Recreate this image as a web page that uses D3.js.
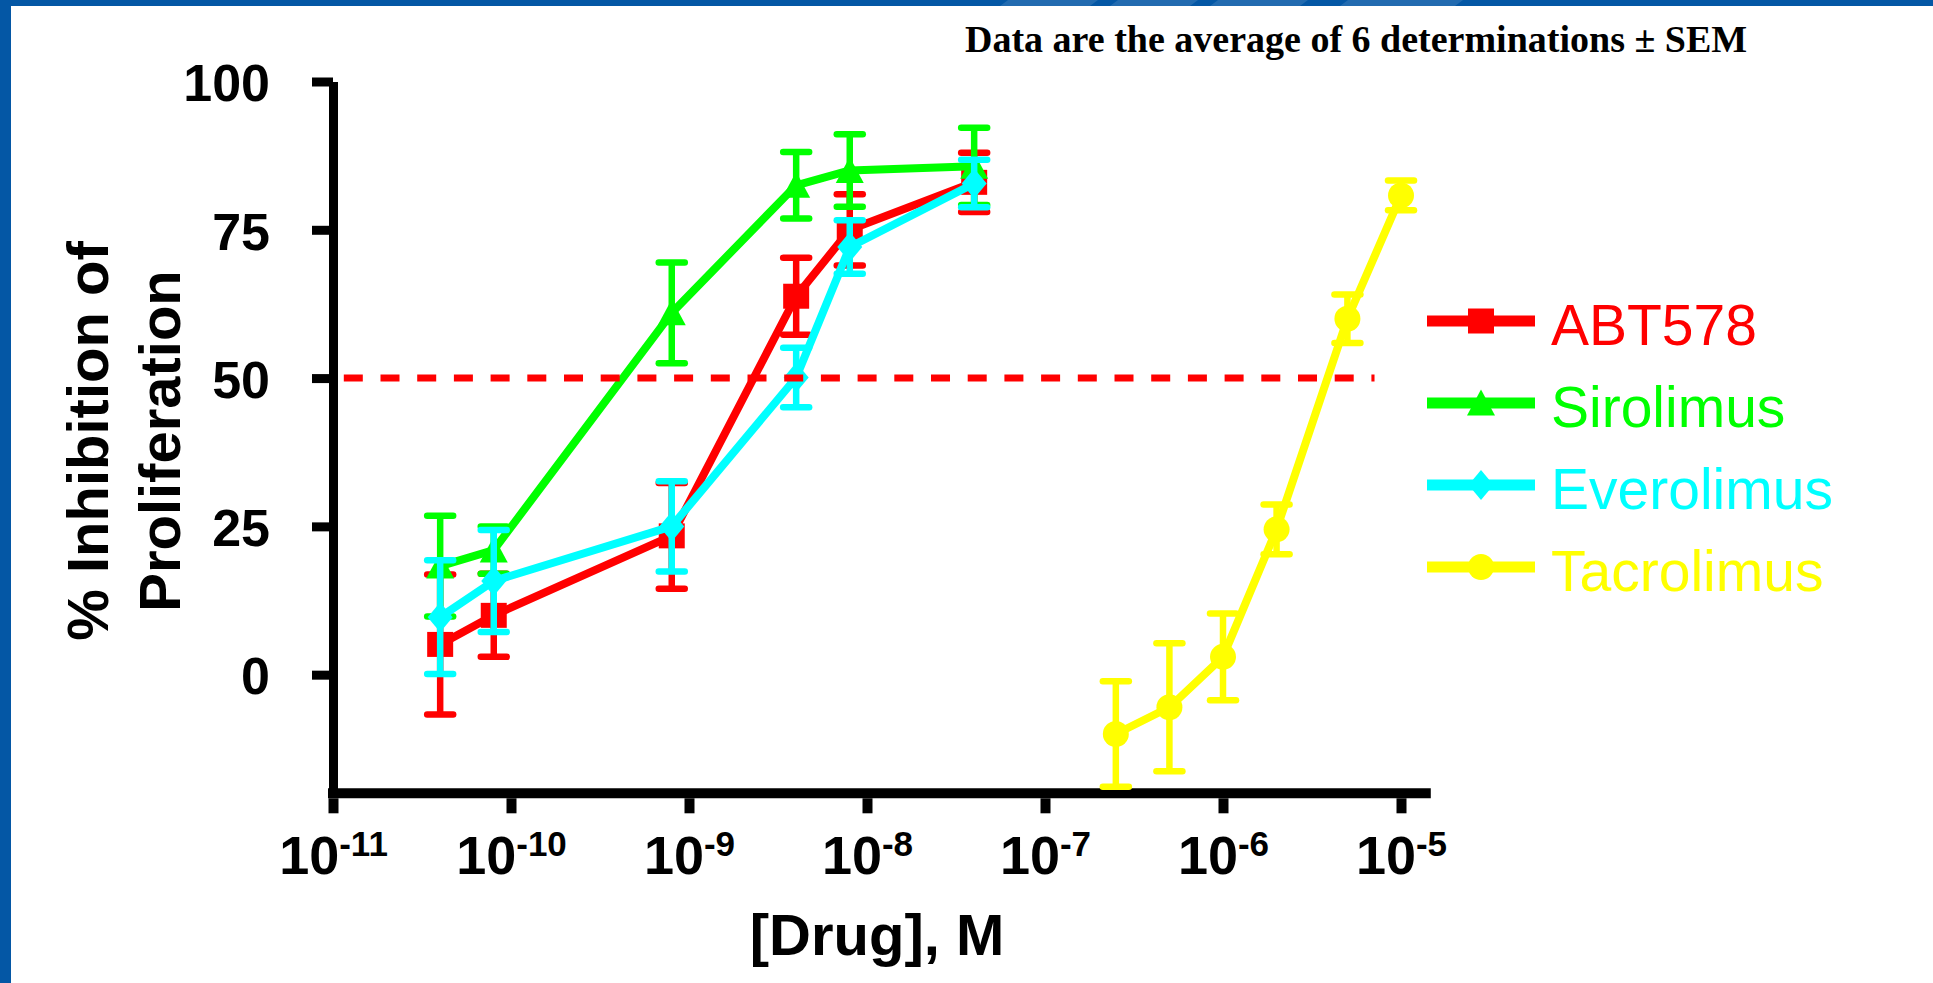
<!DOCTYPE html>
<html>
<head>
<meta charset="utf-8">
<script src="https://cdnjs.cloudflare.com/ajax/libs/d3/7.8.5/d3.min.js"></script>
<style>
  body { margin: 0; background: #fff; }
  svg { display: block; }
  .axis text { font-family: 'Liberation Sans', Arial, sans-serif; font-weight: bold; fill: #000; }
</style>
</head>
<body>
<div class="canvas"></div>
<script>
// concentrations, M
var concMtor = [4e-11, 8e-11, 8e-10, 4e-9, 8e-9, 4e-8];
var concTacro = [2.5e-7, 5e-7, 1e-6, 2e-6, 5e-6, 1e-5];

// % inhibition, mean and SEM
var abtMean = [5.1, 10.0, 23.4, 63.8, 75.0, 83.0];
var abtSem = [11.8, 7.0, 8.9, 6.5, 6.0, 5.0];
var siroMean = [18.3, 21.0, 61.0, 82.5, 85.0, 85.7];
var siroSem = [8.5, 4.0, 8.5, 5.6, 6.1, 6.5];
var everoMean = [9.7, 15.8, 25.0, 50.1, 72.1, 82.8];
var everoSem = [9.6, 8.6, 7.6, 5.0, 4.5, 4.0];
var tacroMean = [-10.0, -5.5, 3.0, 24.5, 60.0, 80.8];
var tacroSem = [8.9, 10.8, 7.3, 4.2, 4.1, 2.5];

var seriesNames = ['ABT578', 'Sirolimus', 'Everolimus', 'Tacrolimus'];
var seriesColours = ['#ff0000', '#00ff00', '#00ffff', '#ffff00'];
var seriesSymbols = ['square', 'triangle', 'diamond', 'circle'];

var yTicks = [0, 25, 50, 75, 100];
var xTicks = [1e-11, 1e-10, 1e-9, 1e-8, 1e-7, 1e-6, 1e-5];
var xTickExps = ['-11', '-10', '-9', '-8', '-7', '-6', '-5'];
var halfLine = { y: 50, from: 1.15e-11, to: 7.1e-6 };
var xAxisEnd = 1.47e-5;

var titleText = 'Data are the average of 6 determinations \u00b1 SEM';
var yTitle = ['% Inhibition of', 'Proliferation'];
var xTitle = '[Drug], M';

var width = 1933;
var height = 983;

var svg = d3.select('.canvas')
  .append('svg')
  .attr('width', width)
  .attr('height', height);

// slide frame: blue strip top and left
svg.append('rect').attr('x', 0).attr('y', 0).attr('width', width).attr('height', 6).attr('fill', '#0457a5');
svg.append('rect').attr('x', 0).attr('y', 0).attr('width', 11).attr('height', height).attr('fill', '#0457a5');
[[1000, 1090], [1110, 1190], [1210, 1300], [1340, 1455]].forEach(function(s) {
  svg.append('path')
    .attr('d', 'M' + (s[0] + 8) + ',0H' + (s[1] + 8) + 'L' + s[1] + ',6H' + s[0] + 'Z')
    .attr('fill', '#ffffff')
    .attr('opacity', 0.12);
});

var xscale = d3.scaleLog()
  .domain([1e-11, 1e-5])
  .range([333, 1401]);
var yscale = d3.scaleLinear()
  .domain([-20, 100])
  .range([793.3, 81.5]);

// y axis
var yaxis = d3.axisLeft(yscale)
  .tickValues(yTicks)
  .tickSize(21)
  .tickSizeOuter(0)
  .tickPadding(42);
var gy = svg.append('g')
  .attr('class', 'axis')
  .attr('transform', 'translate(333,0)')
  .call(yaxis);
gy.select('.domain').attr('stroke', '#000').attr('stroke-width', 9);
gy.selectAll('.tick line').attr('stroke', '#000').attr('stroke-width', 9);
gy.selectAll('.tick text')
  .attr('font-size', 52)
  .attr('dy', '0.37em');

// x axis: thick bar plus ticks hanging below it
svg.append('line')
  .attr('x1', xscale(1e-11) - 5)
  .attr('x2', xscale(xAxisEnd))
  .attr('y1', yscale(-20))
  .attr('y2', yscale(-20))
  .attr('stroke', '#000')
  .attr('stroke-width', 10);

var xaxis = d3.axisBottom(xscale)
  .tickValues(xTicks)
  .tickSize(15)
  .tickSizeOuter(0)
  .tickFormat('');
var gx = svg.append('g')
  .attr('class', 'axis')
  .attr('transform', 'translate(0,' + (yscale(-20) + 5) + ')')
  .call(xaxis);
gx.select('.domain').remove();
gx.selectAll('.tick line').attr('stroke', '#000').attr('stroke-width', 10);
gx.selectAll('.tick text').remove();
gx.selectAll('.tick').each(function(d, i) {
  var t = d3.select(this).append('text')
    .attr('y', 76)
    .attr('text-anchor', 'middle')
    .attr('font-size', 54);
  t.append('tspan').text('10');
  t.append('tspan').attr('font-size', 35).attr('dy', -18).text(xTickExps[i]);
});

// axis titles
yTitle.forEach(function(line, i) {
  svg.append('text')
    .attr('transform', 'translate(' + (108 + i * 72) + ',441) rotate(-90)')
    .attr('text-anchor', 'middle')
    .attr('font-family', "'Liberation Sans', Arial, sans-serif")
    .attr('font-weight', 'bold')
    .attr('font-size', 58)
    .text(line);
});
svg.append('text')
  .attr('x', 877)
  .attr('y', 955)
  .attr('text-anchor', 'middle')
  .attr('font-family', "'Liberation Sans', Arial, sans-serif")
  .attr('font-weight', 'bold')
  .attr('font-size', 58)
  .text(xTitle);

svg.append('text')
  .attr('x', 965)
  .attr('y', 52)
  .attr('font-family', "'Liberation Serif', 'Times New Roman', serif")
  .attr('font-weight', 'bold')
  .attr('font-size', 38)
  .text(titleText);

// marker shapes, centred on 0,0
function drawSymbol(g, type, colour) {
  if (type === 'circle') {
    return g.append('circle').attr('r', 13).attr('fill', colour);
  }
  var d;
  if (type === 'square') d = 'M-13,-12.5H13V12.5H-13Z';
  if (type === 'triangle') d = 'M0,-13.5L14,12.5L-14,12.5Z';
  if (type === 'diamond') d = 'M0,-15L12.5,0L0,15L-12.5,0Z';
  return g.append('path').attr('d', d).attr('fill', colour);
}

var allSeries = [
  { conc: concMtor, mean: abtMean, sem: abtSem },
  { conc: concMtor, mean: siroMean, sem: siroSem },
  { conc: concMtor, mean: everoMean, sem: everoSem },
  { conc: concTacro, mean: tacroMean, sem: tacroSem }
];

var line = d3.line()
  .x(function(d) { return xscale(d.x); })
  .y(function(d) { return yscale(d.y); });

allSeries.forEach(function(s, si) {
  var colour = seriesColours[si];
  var pts = s.conc.map(function(c, i) { return { x: c, y: s.mean[i], e: s.sem[i] }; });
  var g = svg.append('g');

  // error bars
  var eb = g.selectAll('.err')
    .data(pts)
    .enter()
    .append('g')
    .attr('transform', function(d) { return 'translate(' + xscale(d.x) + ',0)'; });
  eb.append('line')
    .attr('x1', 0).attr('x2', 0)
    .attr('y1', function(d) { return yscale(d.y + d.e); })
    .attr('y2', function(d) { return yscale(d.y - d.e); })
    .attr('stroke', colour)
    .attr('stroke-width', 6.5);
  [1, -1].forEach(function(sign) {
    eb.append('line')
      .attr('x1', -13).attr('x2', 13)
      .attr('y1', function(d) { return yscale(d.y + sign * d.e); })
      .attr('y2', function(d) { return yscale(d.y + sign * d.e); })
      .attr('stroke', colour)
      .attr('stroke-width', 6.5)
      .attr('stroke-linecap', 'round');
  });

  g.append('path')
    .datum(pts)
    .attr('d', line)
    .attr('fill', 'none')
    .attr('stroke', colour)
    .attr('stroke-width', 8)
    .attr('stroke-linejoin', 'round');

  g.selectAll('.marker')
    .data(pts)
    .enter()
    .append('g')
    .attr('transform', function(d) { return 'translate(' + xscale(d.x) + ',' + yscale(d.y) + ')'; })
    .each(function() { drawSymbol(d3.select(this), seriesSymbols[si], colour); });
});

// 50% reference line
svg.append('line')
  .attr('x1', xscale(halfLine.from))
  .attr('x2', xscale(halfLine.to))
  .attr('y1', yscale(halfLine.y))
  .attr('y2', yscale(halfLine.y))
  .attr('stroke', '#ff0000')
  .attr('stroke-width', 7)
  .attr('stroke-dasharray', '19,17.7');

// legend
seriesNames.forEach(function(name, i) {
  var ly = 321 + i * 82;
  var lg = svg.append('g').attr('transform', 'translate(0,' + ly + ')');
  lg.append('line')
    .attr('x1', 1427).attr('x2', 1535)
    .attr('stroke', seriesColours[i])
    .attr('stroke-width', 11);
  drawSymbol(lg.append('g').attr('transform', 'translate(1481,0)'), seriesSymbols[i], seriesColours[i]);
  lg.append('text')
    .attr('x', 1551)
    .attr('y', 24)
    .attr('font-family', "'Liberation Sans', Arial, sans-serif")
    .attr('font-size', 57)
    .attr('fill', seriesColours[i])
    .text(name);
});
</script>
</body>
</html>
